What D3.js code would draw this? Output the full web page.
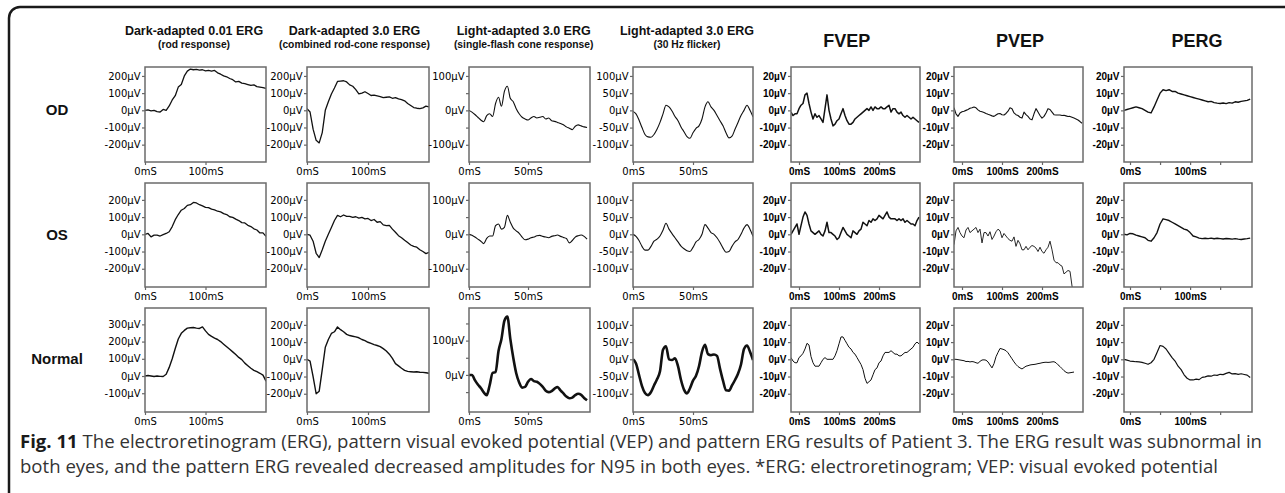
<!DOCTYPE html>
<html>
<head>
<meta charset="utf-8">
<script src="https://cdn.jsdelivr.net/npm/d3@7"></script>
<style>
  body { margin: 0; background: #fff; }
  svg { display: block; }
</style>
</head>
<body>
<div id="chart"></div>
<script>
// ******* Labels *******
var rowNames = ["OD", "OS", "Normal"];
var testTitles = ["Dark-adapted 0.01 ERG", "Dark-adapted 3.0 ERG", "Light-adapted 3.0 ERG", "Light-adapted 3.0 ERG", "FVEP", "PVEP", "PERG"];
var testSubtitles = ["(rod response)", "(combined rod-cone response)", "(single-flash cone response)", "(30 Hz flicker)", "", "", ""];
var captionBold = "Fig. 11";
var captionLine1 = " The electroretinogram (ERG), pattern visual evoked potential (VEP) and pattern ERG results of Patient 3. The ERG result was subnormal in";
var captionLine2 = "both eyes, and the pattern ERG revealed decreased amplitudes for N95 in both eyes. *ERG: electroretinogram; VEP: visual evoked potential";

// ******* Time base of each column (ms) *******
var startMs = [0, 0, 0, 0, -20, -20, -10];
var stepMs = [5, 5, 2.5, 2.5, 5, 5, 5];
var xDomains = [[0, 200], [0, 200], [0, 102.5], [0, 100], [-20, 302.5], [-20, 302.5], [-10, 203]];
var xTicks = [[0, 100], [0, 100], [0, 50], [0, 50], [0, 100, 200], [0, 100, 200], [0, 50, 100, 150]];
var xTickLabels = [[0, 100], [0, 100], [0, 50], [0, 50], [0, 100, 200], [0, 100, 200], [0, 100]];

// ******* Amplitude ranges (µV) and ticks, per row then column *******
var yDomains = [
  [[-301, 252], [-301, 252], [-150, 126], [-150, 126], [-30, 25.2], [-30, 25.2], [-30, 25.2]],
  [[-306, 298], [-306, 298], [-153, 149], [-153, 149], [-30.6, 29.8], [-30.6, 29.8], [-30.6, 29.8]],
  [[-209, 395], [-306, 298], [-108, 195], [-153, 149], [-30.6, 29.8], [-30.6, 29.8], [-30.6, 29.8]]
];
var t200 = [-200, -100, 0, 100, 200];
var t100 = [-100, -50, 0, 50, 100];
var t20 = [-20, -10, 0, 10, 20];
var yTicks = [
  [t200, t200, t100, t100, t20, t20, t20],
  [t200, t200, t100, t100, t20, t20, t20],
  [[-100, 0, 100, 200, 300], t200, [-50, 0, 50, 100, 150], t100, t20, t20, t20]
];
var yLabels = [
  [t200, t200, [-100, 0, 100], t100, t20, t20, t20],
  [t200, t200, [-100, 0, 100], t100, t20, t20, t20],
  [[-100, 0, 100, 200, 300], t200, [0, 100], t100, t20, t20, t20]
];

// ******* Waveforms (µV), sampled from startMs every stepMs *******
// OD
var odRod = [0,2,-3,0,-8,-10,5,0,25,60,85,135,150,200,228,240,236,238,234,236,230,232,228,232,218,210,200,195,185,178,165,168,158,155,150,145,148,138,135,132,128];
var odMax = [10,-10,-110,-175,-190,-130,0,50,95,130,168,170,172,165,148,140,120,96,100,108,98,86,88,84,80,74,76,78,70,74,66,62,55,40,28,16,12,10,14,24,20];
var odCone = [0,-5,-12,-20,-28,-33,-15,-10,-18,20,38,12,55,70,35,25,5,-10,-20,-25,-28,-22,-18,-22,-20,-18,-25,-22,-30,-32,-35,-38,-42,-48,-52,-56,-46,-42,-45,-48,-50];
var odFlicker = [-3,-10,-28,-50,-70,-77,-78,-70,-55,-35,-10,15,10,-2,-18,-30,-48,-62,-76,-81,-65,-52,-45,-25,10,25,10,0,-15,-30,-45,-65,-80,-75,-55,-35,-15,0,15,0,-19];
var odFvep = [-1,-3,-2,-2,1,3,4,9,10,4,-1,-5,-2,-4,-3,-5,-7,1,9,0,-5,-9,-8,-6,-5,-2,1,-3,-6,-8,-8,-7,-5,-4,-3,-2,-1,0,1,0,2,0,2,1,1,2,1,1,2,3,-1,1,1,-1,-2,-1,-3,-4,-3,-4,-5,-4,-5,-6,-7];
var odPvep = [1.5,-2,-3.5,-1.5,-0.8,-0.5,0,0.5,1.2,1.5,2,1.5,0.3,-0.5,-0.8,-1.2,-1.8,-2.3,-2.7,-3.2,-3.5,-2.7,-2,-1.8,-2.5,-2.7,-1.8,-0.5,1.5,1,-1.5,-2.5,-3,-4,-4.5,-1,-2.5,-3.5,-5,-5.5,-2,1,-1,-3,-4.5,-3.5,-1.5,1,0.5,-1,-2.5,-2.7,-2.7,-2.7,-3,-2.8,-3.2,-3.6,-3.5,-4,-4.5,-5,-5.6,-6.5,-7.5];
var odPerg = [0,0.5,1,1.5,2,1.5,1,0,-1,-1.5,2,6,10,12,11.5,12,11,11,10,9.5,9,8.5,8,7.5,7,6.5,6,5.5,5,5.2,4.5,4.2,4,4.3,3.9,4.5,4.2,5,4.7,5.2,5.5,5.8,6.5];
// OS
var osRod = [0,5,-15,-5,-5,-10,-2,5,15,45,85,115,140,150,168,172,185,182,172,165,156,155,146,142,134,130,120,115,102,98,88,80,68,66,52,45,32,25,8,8,-12];
var osMax = [0,-5,-40,-110,-135,-90,-40,0,40,80,110,102,112,104,104,98,102,94,98,90,92,80,86,70,74,55,50,52,30,12,-8,-20,-35,-48,-62,-70,-75,-90,-100,-112,-105];
var osCone = [0,-3,-8,-14,-20,-27,-12,-5,-5,25,30,15,20,55,35,18,10,3,-8,-16,-14,-10,-8,-4,-3,-6,-8,-10,-6,-4,-2,-6,-9,-12,-25,-18,-8,-4,-2,-6,-14];
var osFlicker = [0,-6,-18,-35,-46,-46,-35,-20,-14,-5,12,32,15,2,-10,-22,-34,-42,-48,-50,-38,-22,-15,0,28,18,5,0,-10,-24,-40,-52,-50,-35,-22,-15,0,18,28,15,-6];
var osFvep = [0,2,4,6,0,5,10,13,11,6,2,1,0,1,2,0,-1,2,7,1,1,0,-1,-3,-2,1,4,2,0,-1,-2,2,1,0,2,3,7,6,5,8,7,9,8,9,11,10,9,11,13,10,9,9,9,8,9,8,9,7,8,7,6,6,5,8,10];
var osPvep = [-6,2,4,1,-1,-2,2.5,4,1,2,3,4,1,3,-5,1,1,-1,1.5,-3,-1,1.5,3,2,-2,0.5,-1,-2.5,-3.5,-4,-1.5,-7,-3.5,-5.5,-9,-9,-7,-9,-7.5,-6.5,-7,-8,-10,-7.5,-10,-11,-9,-7.5,-4,-9,-15,-16.5,-16.5,-17.8,-18.5,-23,-22,-21,-21.5,-30,-36];
var osPerg = [0,-0.3,0.5,0.3,-0.5,-1,-1.5,-2,-3.5,-4,-2,1,6,9,8.5,8,7,6,5,4,3,2.5,1,-1,-1.5,-2.2,-2.5,-2.3,-2.5,-2.2,-2.6,-2.3,-2.5,-2.7,-2.4,-2.6,-2.8,-2.5,-2.8,-3,-2.7,-2.5,-2.2];
// Normal
var nRod = [0,3,0,-3,0,-2,-3,10,50,100,160,215,248,265,278,280,282,278,276,285,262,242,230,220,212,200,185,170,155,140,125,108,95,75,60,45,33,25,16,5,-30];
var nMax = [0,-10,-100,-200,-185,-60,70,115,150,160,188,172,160,145,138,134,130,125,115,108,99,92,85,80,74,62,48,30,5,-25,-38,-52,-64,-70,-72,-74,-72,-75,-76,-78,-81];
var nCone = [0,0,-15,-28,-38,-51,-59,-30,6,8,70,105,158,170,105,50,5,-22,-37,-35,-20,-12,-18,-20,-26,-35,-46,-50,-47,-40,-35,-45,-54,-63,-68,-66,-59,-55,-58,-67,-74];
var nFlicker = [0,-12,-45,-78,-98,-104,-95,-76,-58,-35,28,38,0,-2,3,-20,-60,-88,-99,-84,-62,-48,-20,22,42,15,12,14,10,-27,-62,-90,-91,-76,-60,-42,-15,30,40,22,-2];
var nFvep = [1,-1,-2,-2,1,2,3.5,6,9.3,8.3,1.6,-2,-4,-4,-4,-2,0,1,0,0,0,0,2,5,9,13,13,11,9,7,6,4,3,1,-1,-3,-6,-11,-14,-13,-12,-9,-6,-5,-2,-1,2,4,4,4,5,4,3,3,2,2,3,4,4,5,6,7,9,10,9];
var nPvep = [0,0,-0.2,-0.4,-0.6,-0.8,-1.3,-1.2,-1.5,-1.3,-1.5,-2,-2.3,-1.2,-0.4,-0.3,-0.5,-1.5,-3.3,-5,-2.5,1.5,4,6.3,6,5.6,5,3.8,2,0.3,-1.5,-3,-4.2,-5,-5.6,-4.8,-4,-3.7,-3.3,-3.1,-3,-2.8,-2.5,-2.3,-2,-1.8,-1.7,-1.8,-1.7,-1.5,-1.4,-2,-3.2,-4.2,-5.4,-6.6,-7.5,-8,-7.8,-7.6,-7.4];
var nPerg = [0,-0.5,-1,-1.2,-1.4,-1.5,-1.8,-2.3,-2.9,-2,0,4,8,7.5,6,3.5,1,-1,-4,-6,-9,-11,-12,-12,-11.5,-11.8,-10.5,-10.2,-9.6,-9.8,-9.1,-9.3,-8.7,-8.9,-8.2,-7.6,-8.5,-8.3,-8.7,-8.4,-8.8,-9.2,-10.6];

var traces = [
  [odRod, odMax, odCone, odFlicker, odFvep, odPvep, odPerg],
  [osRod, osMax, osCone, osFlicker, osFvep, osPvep, osPerg],
  [nRod, nMax, nCone, nFlicker, nFvep, nPvep, nPerg]
];

// ******* Layout *******
var w = 1285;
var h = 493;
var colX = [[145, 266], [307, 429], [469, 590], [633, 753], [791, 920], [954, 1083], [1124, 1252]];
var rowY = [[67, 162], [183, 287], [308, 412]];
var titleX = [194, 354.5, 523.7, 687, 846.7, 1020, 1197];
var rowLabelY = [110, 235, 359];
var lineW = [
  [1.3, 1.3, 1.1, 1.1, 1.5, 1.1, 1.4],
  [1.3, 1.3, 1.1, 1.1, 1.5, 0.9, 1.4],
  [1.4, 1.4, 2.6, 2.6, 1.0, 1.0, 1.2]
];
var smoothCol = [false, false, true, true, false, false, false];

var svg = d3.select("#chart").append("svg").attr("width", w).attr("height", h);
svg.append("rect").attr("width", w).attr("height", h).attr("fill", "#fff");

// figure box (top and left edges, rounded corner)
svg.append("path")
  .attr("d", "M9,493 V18 A11,11 0 0 1 20,7 H1285")
  .attr("fill", "none")
  .attr("stroke", "#1a1a1a")
  .attr("stroke-width", 2.5);

// ******* Column titles *******
testTitles.forEach(function (t, c) {
  var big = c >= 4;
  svg.append("text")
    .attr("x", titleX[c])
    .attr("y", big ? 47 : 35)
    .attr("text-anchor", "middle")
    .style("font-family", "'Liberation Sans', Arial, sans-serif")
    .style("font-weight", "bold")
    .style("font-size", big ? "18px" : "12.5px")
    .attr("fill", "#111")
    .text(t);
  if (testSubtitles[c]) {
    svg.append("text")
      .attr("x", titleX[c])
      .attr("y", 47.5)
      .attr("text-anchor", "middle")
      .style("font-family", "'Liberation Sans', Arial, sans-serif")
      .style("font-weight", "bold")
      .style("font-size", "10.3px")
      .attr("fill", "#111")
      .text(testSubtitles[c]);
  }
});

// ******* Row labels *******
rowNames.forEach(function (n, r) {
  svg.append("text")
    .attr("x", 57)
    .attr("y", rowLabelY[r])
    .attr("dy", "0.35em")
    .attr("text-anchor", "middle")
    .style("font-family", "'Liberation Sans', Arial, sans-serif")
    .style("font-weight", "bold")
    .style("font-size", "15px")
    .attr("fill", "#111")
    .text(n);
});

// ******* Panels *******
rowNames.forEach(function (rn, r) {
  testTitles.forEach(function (tt, c) {
    var x0 = colX[c][0], x1 = colX[c][1];
    var y0 = rowY[r][0], y1 = rowY[r][1];
    var x = d3.scaleLinear().domain(xDomains[c]).range([x0, x1]);
    var y = d3.scaleLinear().domain(yDomains[r][c]).range([y1, y0]);
    var vep = c >= 4;
    var tickFont = vep ? "'Liberation Sans', Arial, sans-serif" : "'DejaVu Sans', sans-serif";
    var g = svg.append("g");

    var clipId = "clip-" + r + "-" + c;
    svg.append("clipPath").attr("id", clipId)
      .append("rect").attr("x", x0).attr("y", y0).attr("width", x1 - x0).attr("height", y1 - y0);

    var yAxis = g.append("g")
      .attr("transform", "translate(" + x0 + ",0)")
      .call(d3.axisLeft(y)
        .tickValues(yTicks[r][c])
        .tickSize(3)
        .tickPadding(1.5)
        .tickFormat(function (v) { return yLabels[r][c].indexOf(v) >= 0 ? v + "µV" : ""; }));
    var xAxis = g.append("g")
      .attr("transform", "translate(0," + y1 + ")")
      .call(d3.axisBottom(x)
        .tickValues(xTicks[c])
        .tickSize(3)
        .tickPadding(3)
        .tickFormat(function (v) { return xTickLabels[c].indexOf(v) >= 0 ? v + "mS" : ""; }));
    [yAxis, xAxis].forEach(function (a) {
      a.select(".domain").remove();
      a.selectAll(".tick line").attr("stroke", "#666").attr("stroke-width", 1.2);
      a.selectAll("text")
        .attr("fill", "#000")
        .style("font-family", tickFont)
        .style("font-weight", vep ? "bold" : "normal")
        .style("font-size", "10px");
    });

    var vals = traces[r][c];
    var line = d3.line()
      .x(function (v, i) { return x(startMs[c] + i * stepMs[c]); })
      .y(function (v) { return y(v); })
      .curve(smoothCol[c] ? d3.curveMonotoneX : d3.curveLinear);
    g.append("path")
      .datum(vals)
      .attr("clip-path", "url(#" + clipId + ")")
      .attr("d", line)
      .attr("fill", "none")
      .attr("stroke", "#111")
      .attr("stroke-width", lineW[r][c])
      .attr("stroke-linejoin", "round");

    g.append("rect")
      .attr("x", x0).attr("y", y0)
      .attr("width", x1 - x0).attr("height", y1 - y0)
      .attr("fill", "none")
      .attr("stroke", "#6b6b6b")
      .attr("stroke-width", 1.5);
  });
});

// ******* Caption *******
var cap = svg.append("g")
  .style("font-family", "'Open Sans', sans-serif")
  .style("font-size", "15.5px")
  .attr("fill", "#333");
var l1 = cap.append("text").attr("x", 20).attr("y", 448);
l1.append("tspan").style("font-weight", "bold").attr("fill", "#1a1a1a").text(captionBold);
l1.append("tspan").text(captionLine1);
var l2 = cap.append("text").attr("x", 20).attr("y", 473).text(captionLine2);
// fit first line to the box width, second line keeps the same size
var fs = 15.5 * 1243 / l1.node().getComputedTextLength();
cap.style("font-size", fs + "px");
</script>
</body>
</html>
